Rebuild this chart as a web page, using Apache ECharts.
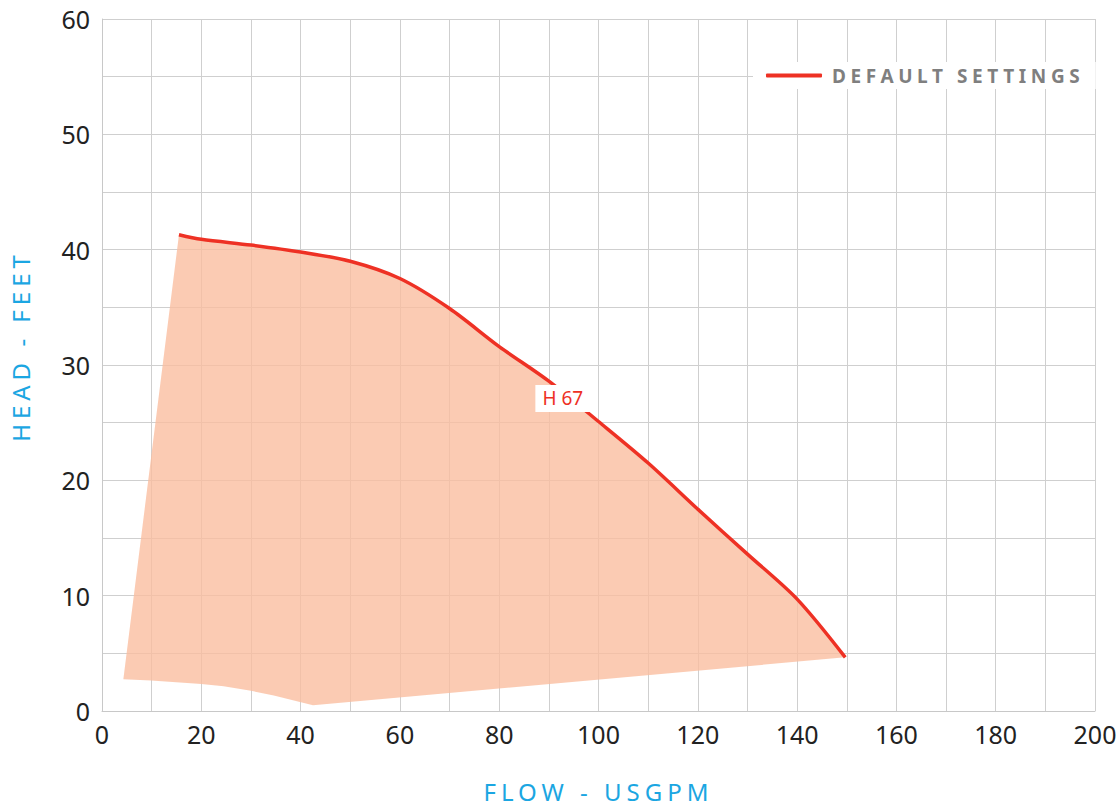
<!DOCTYPE html>
<html><head><meta charset="utf-8">
<script src="https://cdn.jsdelivr.net/npm/echarts@6/dist/echarts.min.js"></script>
<style>
html,body{margin:0;padding:0;background:#fff}
#c{width:1120px;height:808px}
#c text[fill="#1ba6e2"]{letter-spacing:5px}
#c text[fill="#7f7f7f"]{letter-spacing:4.6px}
</style></head><body><div id="c"></div>
<script>
// Pump curve (upper boundary) — flow (USGPM), head (feet)
const curveFlow = [15.5, 20, 30, 40, 50, 60, 70, 80, 90, 100, 110, 120, 130, 140, 149.7];
const curveHead = [41.3, 40.9, 40.4, 39.8, 39.0, 37.5, 34.9, 31.6, 28.6, 25.1, 21.5, 17.5, 13.6, 9.7, 4.65];
// Lower boundary of operating region (right to left)
const lowerFlow = [149.7, 42.5, 34.6, 30, 24.5, 20, 9.9, 4.3];
const lowerHead = [4.65, 0.5, 1.35, 1.75, 2.15, 2.35, 2.65, 2.75];
const seriesName = 'DEFAULT SETTINGS';
const curveLabel = 'H 67';
const labelPoint = [92.8, 27.1];
const xTicks = [0, 20, 40, 60, 80, 100, 120, 140, 160, 180, 200];
const yTicks = [0, 10, 20, 30, 40, 50, 60];

const curveData = curveFlow.map((x, i) => [x, curveHead[i]]);
const polyPts = curveData.concat(lowerFlow.map((x, i) => [x, lowerHead[i]]));

const chart = echarts.init(document.getElementById('c'), null, {renderer: 'svg'});
const font = 'Noto Sans';
chart.setOption({
  animation: false,
  backgroundColor: '#fff',
  grid: {left: 101, right: 25, top: 19, bottom: 95, containLabel: false},
  xAxis: {
    type: 'value', min: xTicks[0], max: xTicks[xTicks.length - 1], interval: 20,
    name: 'FLOW - USGPM', nameLocation: 'middle', nameGap: 68,
    nameTextStyle: {color: '#1ba6e2', fontSize: 24, fontFamily: font},
    axisLine: {show: true, lineStyle: {color: '#c8c8c8', width: 1}},
    axisTick: {show: false},
    axisLabel: {color: '#222', fontSize: 25, fontFamily: font, margin: 10},
    splitLine: {show: true, lineStyle: {color: '#cfcfcf', width: 1}},
    minorTick: {show: false, splitNumber: 2},
    minorSplitLine: {show: true, lineStyle: {color: '#cfcfcf', width: 1}}
  },
  yAxis: {
    type: 'value', min: yTicks[0], max: yTicks[yTicks.length - 1], interval: 10,
    name: 'HEAD - FEET', nameLocation: 'middle', nameGap: 70,
    nameTextStyle: {color: '#1ba6e2', fontSize: 24, fontFamily: font, padding: [0, 0, 0, 38]},
    axisLine: {show: true, lineStyle: {color: '#c8c8c8', width: 1}},
    axisTick: {show: false},
    axisLabel: {color: '#222', fontSize: 25, fontFamily: font, margin: 12},
    splitLine: {show: true, lineStyle: {color: '#cfcfcf', width: 1}},
    minorTick: {show: false, splitNumber: 2},
    minorSplitLine: {show: true, lineStyle: {color: '#cfcfcf', width: 1}}
  },
  legend: {
    data: [{name: seriesName, icon: 'roundRect'}], left: 753, top: 62, backgroundColor: '#fff',
    padding: [4, 85, 4, 13], itemWidth: 56, itemHeight: 4,
    itemStyle: {color: '#ee3124'},
    textStyle: {color: '#7f7f7f', fontSize: 19, fontWeight: 'bold', fontFamily: font, padding: [0, 0, 0, 5]}
  },
  series: [
    {
      type: 'custom', name: 'region', silent: true, z: 1,
      data: [polyPts[0]],
      renderItem: function (params, api) {
        return {
          type: 'polygon',
          shape: {points: polyPts.map(p => api.coord(p))},
          style: {fill: 'rgba(250,188,158,0.78)', stroke: 'none'}
        };
      }
    },
    {
      type: 'line', name: seriesName, data: curveData, smooth: 0.3,
      symbol: 'none', z: 3,
      lineStyle: {color: '#ee3124', width: 3.5},
      itemStyle: {color: '#ee3124'},
      markPoint: {
        symbol: 'rect', symbolSize: 0,
        data: [{coord: labelPoint, value: curveLabel}],
        label: {
          show: true, formatter: curveLabel, color: '#ee3124', fontSize: 19, fontFamily: font,
          backgroundColor: '#fff', padding: [5, 7, 3, 7], position: 'inside'
        }
      }
    }
  ]
});
</script></body></html>
